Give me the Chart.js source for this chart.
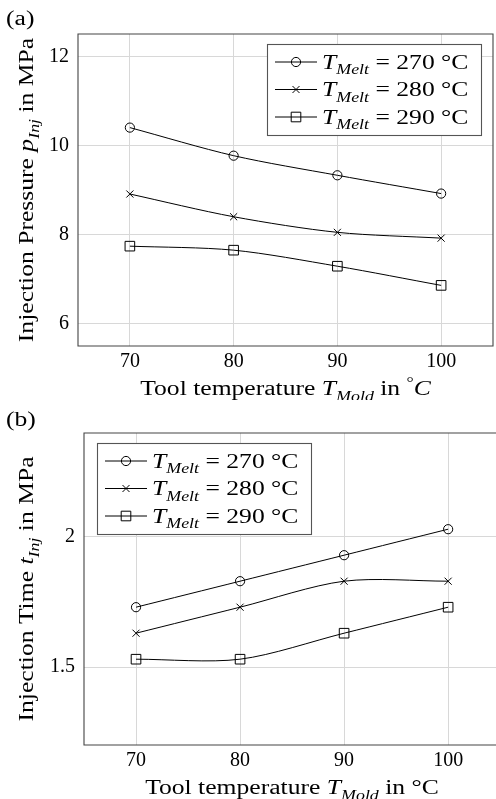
<!DOCTYPE html>
<html>
<head>
<meta charset="utf-8">
<script src="https://cdn.jsdelivr.net/npm/chart.js@4.4.0/dist/chart.umd.min.js"></script>
<style>
  html, body { margin: 0; padding: 0; background: #fff; overflow: hidden; width: 496px; height: 799px; }
  #wrap { position: relative; width: 496px; height: 799px; overflow: hidden; }
  canvas { position: absolute; left: 0; }
  #chartA { top: 0; }
  #chartB { top: 400px; }
</style>
</head>
<body>
<div id="wrap">
<canvas id="chartA" width="496" height="400"></canvas>
<canvas id="chartB" width="496" height="399"></canvas>
</div>
<script>
// ---- data ----
const moldTemps = [70, 80, 90, 100];
const meltTemps = ["270", "280", "290"];

const pressure270 = [10.40, 9.77, 9.33, 8.92];
const pressure280 = [8.91, 8.40, 8.05, 7.92];
const pressure290 = [7.74, 7.65, 7.29, 6.86];

const time270 = [1.73, 1.83, 1.93, 2.03];
const time280 = [1.63, 1.73, 1.83, 1.83];
const time290 = [1.53, 1.53, 1.63, 1.73];

const tempTicks = [70, 80, 90, 100];
const pressureTicks = [6, 8, 10, 12];
const timeTicks = [1.5, 2];

// ---- look ----
const FONT = "'Liberation Serif', 'DejaVu Serif', serif";
const FS = 20;
const SX = 1.28; // widen the serif text a little
const markers = [
  { style: "circle", radius: 4.6 },
  { style: "crossRot", radius: 5 },
  { style: "rect", radius: 6.8 }
];

Chart.defaults.font.family = FONT;
Chart.defaults.font.size = FS;
Chart.defaults.color = "#000";

// draws a run of text pieces (italic / subscript / superscript) centred or left at x
function drawRich(ctx, parts, x, y, align) {
  const items = parts.map(p => {
    const size = (p.sub || p.sup) ? FS * 0.7 : FS;
    const font = (p.italic ? "italic " : "") + size + "px " + FONT;
    ctx.font = font;
    return { t: p.t, font, w: ctx.measureText(p.t).width * SX, dy: p.sub ? FS * 0.28 : (p.sup ? -FS * 0.42 : 0) };
  });
  const total = items.reduce((s, it) => s + it.w, 0);
  let cx = align === "center" ? x - total / 2 : x;
  ctx.textAlign = "left";
  ctx.textBaseline = "alphabetic";
  items.forEach(it => {
    ctx.save();
    ctx.font = it.font;
    ctx.translate(cx, y + it.dy);
    ctx.scale(SX, 1);
    ctx.fillText(it.t, 0, 0);
    ctx.restore();
    cx += it.w;
  });
  return total;
}

function drawMarker(ctx, style, x, y) {
  ctx.beginPath();
  if (style === "circle") {
    ctx.arc(x, y, 4.6, 0, Math.PI * 2);
  } else if (style === "crossRot") {
    const d = 3.5;
    ctx.moveTo(x - d, y - d); ctx.lineTo(x + d, y + d);
    ctx.moveTo(x - d, y + d); ctx.lineTo(x + d, y - d);
  } else {
    ctx.rect(x - 4.8, y - 4.8, 9.6, 9.6);
  }
  ctx.stroke();
}

// frame, legend, axis titles and panel letter
const decorations = {
  id: "decorations",
  afterDraw(chart, args, opts) {
    const { ctx, chartArea: a } = chart;
    ctx.save();
    ctx.strokeStyle = "#444";
    ctx.lineWidth = 1.1;
    ctx.beginPath();
    if (opts.openRight) {
      // panel runs off the right side of the page
      ctx.moveTo(a.right + 10, a.top); ctx.lineTo(a.left, a.top);
      ctx.lineTo(a.left, a.bottom); ctx.lineTo(a.right + 10, a.bottom);
    } else {
      ctx.rect(a.left, a.top, a.right - a.left, a.bottom - a.top);
    }
    ctx.stroke();

    // legend
    const bw = 214, bh = 91;
    const bx = opts.legendLeft ? a.left + 13 : a.right - 12 - bw;
    const by = a.top + 10;
    ctx.fillStyle = "#fff";
    ctx.fillRect(bx, by, bw, bh);
    ctx.strokeStyle = "#555";
    ctx.strokeRect(bx + 0.5, by + 0.5, bw, bh);
    ctx.fillStyle = "#000";
    ctx.strokeStyle = "#000";
    ctx.lineWidth = 1;
    meltTemps.forEach((t, i) => {
      const ry = by + 18 + i * 27.5;
      ctx.beginPath();
      ctx.moveTo(bx + 8, ry); ctx.lineTo(bx + 50, ry);
      ctx.stroke();
      drawMarker(ctx, markers[i].style, bx + 29, ry);
      drawRich(ctx, [
        { t: "T", italic: true },
        { t: "Melt", italic: true, sub: true },
        { t: " = " + t + " °C" }
      ], bx + 55, ry + 6.5, "left");
    });

    // x title, centred on the full panel width
    const cx = opts.xTitleX;
    drawRich(ctx, opts.xTitle, cx, opts.xTitleY, "center");

    // y title
    ctx.save();
    ctx.translate(33, (a.top + a.bottom) / 2);
    ctx.rotate(-Math.PI / 2);
    drawRich(ctx, opts.yTitle, 0, 0, "center");
    ctx.restore();

    drawRich(ctx, [{ t: opts.panel }], 6, opts.panelY, "left");
    ctx.restore();
  }
};

function makeSets(series) {
  return series.map((vals, i) => ({
    data: moldTemps.map((x, k) => ({ x, y: vals[k] })),
    borderColor: "#000",
    borderWidth: 1,
    tension: 0.3,
    pointStyle: markers[i].style,
    pointRadius: markers[i].radius,
    pointBorderColor: "#000",
    pointBorderWidth: 1,
    pointBackgroundColor: "rgba(0,0,0,0)"
  }));
}

function makeChart(id, cfg) {
  return new Chart(document.getElementById(id), {
    type: "line",
    data: { datasets: makeSets(cfg.series) },
    plugins: [decorations],
    options: {
      responsive: false,
      animation: false,
      devicePixelRatio: 1,
      layout: { autoPadding: false, padding: { top: cfg.top, right: cfg.right, left: 0, bottom: 0 } },
      plugins: {
        legend: { display: false },
        tooltip: { enabled: false },
        decorations: cfg.deco
      },
      scales: {
        x: {
          type: "linear",
          min: 65, max: cfg.xMax,
          afterBuildTicks: s => { s.ticks = tempTicks.map(v => ({ value: v })); },
          afterFit: s => { s.height = 54; s.paddingLeft = 0; s.paddingRight = 0; },
          grid: { color: "#d8d8d8", drawTicks: false },
          border: { display: false },
          ticks: { padding: 4, color: "#000", callback: v => String(v) }
        },
        y: {
          min: cfg.yMin, max: cfg.yMax,
          afterBuildTicks: s => { s.ticks = cfg.yTicks.map(v => ({ value: v })); },
          afterFit: s => { s.width = cfg.yWidth; s.paddingTop = 0; s.paddingBottom = 0; },
          grid: { color: "#d8d8d8", drawTicks: false },
          border: { display: false },
          ticks: { padding: 9, color: "#000", callback: v => String(v) }
        }
      }
    }
  });
}

makeChart("chartA", {
  series: [pressure270, pressure280, pressure290],
  xMax: 105,
  yMin: 5.5, yMax: 12.5, yTicks: pressureTicks,
  top: 34, right: 3, yWidth: 78,
  deco: {
    legendLeft: false,
    openRight: false,
    panel: "(a)", panelY: 25,
    xTitleX: 285.5, xTitleY: 395,
    xTitle: [
      { t: "Tool temperature " },
      { t: "T", italic: true },
      { t: "Mold", italic: true, sub: true },
      { t: " in " },
      { t: "°", sup: true },
      { t: "C", italic: true }
    ],
    yTitle: [
      { t: "Injection Pressure " },
      { t: "p", italic: true },
      { t: "Inj", italic: true, sub: true },
      { t: " in MPa" }
    ]
  }
});

// this panel is cut by the page edge a few pixels before x = 105
makeChart("chartB", {
  series: [time270, time280, time290],
  xMax: 104.6,
  yMin: 1.2, yMax: 2.4, yTicks: timeTicks,
  top: 33, right: 0, yWidth: 84,
  deco: {
    legendLeft: true,
    openRight: true,
    panel: "(b)", panelY: 26,
    xTitleX: 292, xTitleY: 394,
    xTitle: [
      { t: "Tool temperature " },
      { t: "T", italic: true },
      { t: "Mold", italic: true, sub: true },
      { t: " in °C" }
    ],
    yTitle: [
      { t: "Injection Time " },
      { t: "t", italic: true },
      { t: "Inj", italic: true, sub: true },
      { t: " in MPa" }
    ]
  }
});
</script>
</body>
</html>
